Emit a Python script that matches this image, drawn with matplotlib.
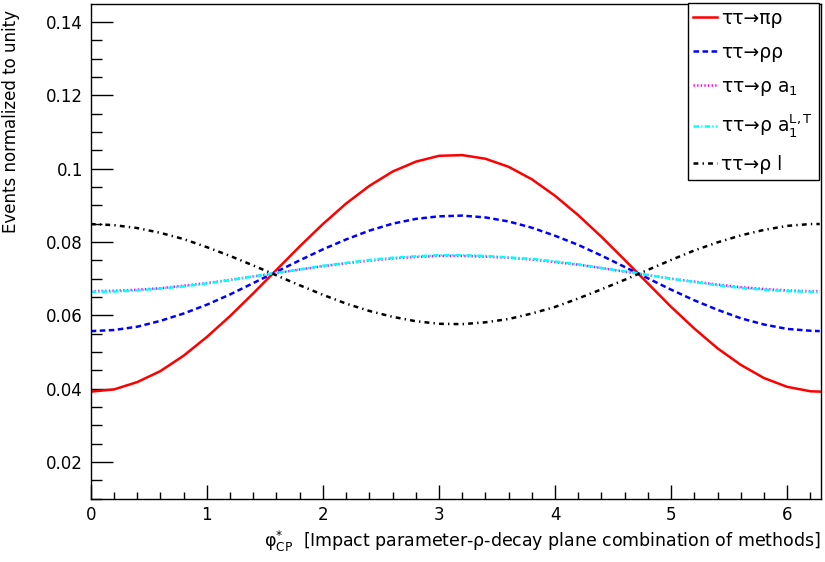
import numpy as np
import matplotlib
matplotlib.use('Agg')
import matplotlib.pyplot as plt
from matplotlib.ticker import MultipleLocator, AutoMinorLocator

plt.rcParams['font.family'] = ['DejaVu Sans']
plt.rcParams['mathtext.fontset'] = 'dejavusans'
plt.rcParams['lines.scale_dashes'] = False

# phi*_CP points (rad)
phi = [0.0, 0.2, 0.4, 0.6, 0.8, 1.0, 1.2, 1.4, 1.6, 1.8, 2.0, 2.2, 2.4, 2.6, 2.8, 3.0,
       3.2, 3.4, 3.6, 3.8, 4.0, 4.2, 4.4, 4.6, 4.8, 5.0, 5.2, 5.4, 5.6, 5.8, 6.0, 6.2, 6.28]

pi_rho = [0.0392, 0.0398, 0.0418, 0.0448, 0.0490, 0.0541, 0.0598, 0.0660, 0.0724,
          0.0788, 0.0849, 0.0905, 0.0953, 0.0992, 0.1019, 0.1035, 0.1037, 0.1027,
          0.1005, 0.0971, 0.0926, 0.0873, 0.0814, 0.0751, 0.0687, 0.0623, 0.0564,
          0.0510, 0.0465, 0.0429, 0.0405, 0.0393, 0.0392]
rho_rho = [0.0557, 0.0560, 0.0569, 0.0585, 0.0605, 0.0629, 0.0657, 0.0688, 0.0719,
           0.0750, 0.0780, 0.0807, 0.0831, 0.0850, 0.0863, 0.0870, 0.0872, 0.0867,
           0.0856, 0.0839, 0.0817, 0.0792, 0.0763, 0.0732, 0.0701, 0.0670, 0.0641,
           0.0615, 0.0592, 0.0575, 0.0563, 0.0558, 0.0557]
rho_a1 = [0.0666, 0.0667, 0.0670, 0.0674, 0.0681, 0.0688, 0.0697, 0.0706, 0.0715,
          0.0725, 0.0734, 0.0742, 0.0749, 0.0755, 0.0759, 0.0762, 0.0762, 0.0760,
          0.0757, 0.0752, 0.0745, 0.0738, 0.0729, 0.0719, 0.0710, 0.0700, 0.0692,
          0.0684, 0.0677, 0.0672, 0.0668, 0.0666, 0.0666]
rho_a1LT = [0.0664, 0.0665, 0.0668, 0.0673, 0.0679, 0.0687, 0.0696, 0.0706, 0.0716,
            0.0725, 0.0735, 0.0743, 0.0751, 0.0757, 0.0761, 0.0764, 0.0764, 0.0762,
            0.0758, 0.0754, 0.0747, 0.0739, 0.0729, 0.0720, 0.0710, 0.0700, 0.0691,
            0.0682, 0.0675, 0.0670, 0.0666, 0.0664, 0.0664]
rho_l = [0.0849, 0.0846, 0.0838, 0.0825, 0.0808, 0.0786, 0.0762, 0.0736, 0.0709,
         0.0682, 0.0656, 0.0632, 0.0612, 0.0596, 0.0584, 0.0577, 0.0576, 0.0581,
         0.0590, 0.0605, 0.0623, 0.0646, 0.0671, 0.0697, 0.0724, 0.0751, 0.0777,
         0.0799, 0.0818, 0.0833, 0.0844, 0.0849, 0.0849]

labels = ['ττ→πρ', 'ττ→ρρ', r'ττ→ρ a$_\mathregular{1}$',
          r'ττ→ρ a$_\mathregular{1}^\mathregular{L,T}$', 'ττ→ρ l']

fig = plt.figure(figsize=(8.25, 5.62), dpi=100)
ax = fig.add_axes([0.110, 0.1126, 0.885, 0.8803])

ax.plot(phi, pi_rho, color='#ff0000', lw=1.8, label=labels[0])
ax.plot(phi, rho_rho, color='#0000ff', lw=1.8, dashes=(4.0, 2.5), label=labels[1])
ax.plot(phi, rho_a1, color='#ff00ff', lw=1.8, dashes=(1.0, 1.6), label=labels[2])
ax.plot(phi, rho_a1LT, color='#00ffff', lw=1.8, dashes=(4.0, 1.5, 1.0, 1.5), label=labels[3])
ax.plot(phi, rho_l, color='black', lw=1.8, dashes=(3.5, 3.0, 1.0, 3.0), label=labels[4])

ax.set_xlim(0, 6.29)
ax.set_ylim(0.010, 0.1449)
ax.xaxis.set_major_locator(MultipleLocator(1))
ax.xaxis.set_minor_locator(AutoMinorLocator(5))
ax.yaxis.set_major_locator(MultipleLocator(0.02))
ax.yaxis.set_minor_locator(AutoMinorLocator(4))
ax.yaxis.set_major_formatter(plt.FuncFormatter(lambda v, p: ('%g' % round(v, 3))))

ax.tick_params(axis='both', which='both', direction='in', top=False, right=False,
               labelsize=12, width=1)
ax.tick_params(axis='x', which='major', length=10, pad=5.5)
ax.tick_params(axis='x', which='minor', length=5)
ax.tick_params(axis='y', which='major', length=16, pad=5.5)
ax.tick_params(axis='y', which='minor', length=8)
for s in ax.spines.values():
    s.set_linewidth(1.0)

ax.set_ylabel('Events normalized to unity', fontsize=12, loc='top')
ax.yaxis.set_label_coords(-0.097, 0.988)
ax.set_xlabel(r'$\mathregular{φ^{*}_{CP}}$  [Impact parameter-ρ-decay plane combination of methods]',
              fontsize=12.5, loc='right')
ax.xaxis.set_label_coords(1.0, -0.062)

leg = ax.legend(loc='upper right', bbox_to_anchor=(819 / 825, 1 - 3 / 562),
                bbox_transform=fig.transFigure, fontsize=13.5, frameon=True,
                fancybox=False, framealpha=1, edgecolor='black', borderaxespad=0,
                handlelength=1.25, handletextpad=0.25, labelspacing=0.8,
                borderpad=0.3)
leg.get_frame().set_linewidth(1.0)

fig.savefig('out.png', dpi=100)
